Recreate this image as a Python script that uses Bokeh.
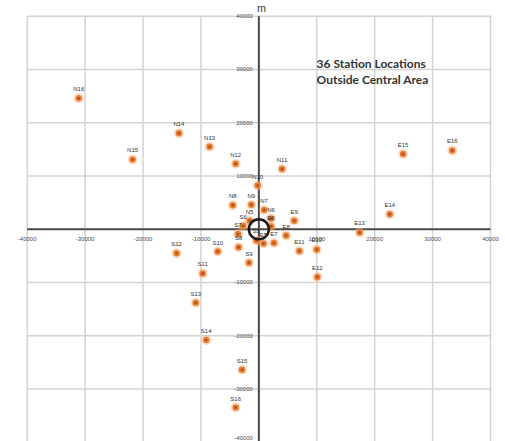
from bokeh.plotting import figure
from bokeh.models import ColumnDataSource, Label, Range1d
from bokeh.core.properties import value
from bokeh.embed import file_html
from bokeh.resources import INLINE

# Station coordinates in metres relative to the centre
names = ["N16", "N15", "N14", "N13", "N12", "N11", "N10", "N9", "N8", "N7", "N6", "N5",
         "E16", "E15", "E14", "E13", "E12", "E11", "E10", "E9", "E8", "E7", "E6", "E5",
         "S16", "S15", "S14", "S13", "S12", "S11", "S10", "S9", "S8", "S7", "S6", "S5"]
xs = [-31100, -21800, -13800, -8500, -4000, 4000, -200, -1300, -4500, 900, 2100, -1600,
      33400, 24900, 22600, 17400, 10100, 7000, 10000, 6100, 4700, 2600, 2100, 800,
      -4000, -2900, -9100, -10900, -14200, -9700, -7100, -1700, -3500, -3600, -2700, -400]
ys = [24600, 13100, 18000, 15500, 12300, 11300, 8200, 4600, 4500, 3600, 2000, 1600,
      14800, 14100, 2800, -600, -9000, -4100, -3800, 1600, -1200, -2600, 500, -2700,
      -33500, -26400, -20800, -13800, -4500, -8300, -4200, -6300, -3400, -900, 600, -2100]

# Axis ticks (m)
ticks = [-40000, -30000, -20000, -10000, 10000, 20000, 30000, 40000]
tick_labels = ["-40000", "-30000", "-20000", "-10000", "10000", "20000", "30000", "40000"]
grid_ticks = [-40000, -30000, -20000, -10000, 0, 10000, 20000, 30000, 40000]
LIM = 40000

p = figure(width=505, height=441, output_backend="svg", toolbar_location=None,
           x_range=Range1d(-44610, 42590), y_range=Range1d(-39870, 42950),
           min_border=0)
p.xaxis.visible = False
p.yaxis.visible = False
p.xgrid.visible = False
p.ygrid.visible = False
p.outline_line_color = None
p.background_fill_color = "white"

# grid lines
p.segment(x0=grid_ticks, y0=[-LIM] * len(grid_ticks), x1=grid_ticks, y1=[LIM] * len(grid_ticks),
          line_color="#d4d4d4", line_width=1.5)
p.segment(x0=[-LIM] * len(grid_ticks), y0=grid_ticks, x1=[LIM] * len(grid_ticks), y1=grid_ticks,
          line_color="#d4d4d4", line_width=1.5)

# main axes through the origin
p.segment(x0=[-LIM, 0], y0=[0, -LIM], x1=[LIM, 0], y1=[0, LIM],
          line_color="#4a4a4a", line_width=2)

# tick labels (the lowest y label is lifted so it stays inside the page)
zeros = [0] * len(ticks)
p.text(x=ticks, y=zeros, text=tick_labels, text_font=value("Liberation Sans"),
       text_font_size=value("6px"), text_color="#4d4d4d", text_align="center",
       text_baseline="middle", y_offset=10)
ysrc = ColumnDataSource(dict(x=zeros, y=ticks, label=tick_labels,
                             dy=[-4 if t == -LIM else 0 for t in ticks]))
p.text(x="x", y="y", text="label", source=ysrc, text_font=value("Liberation Sans"),
       text_font_size=value("6px"), text_color="#4d4d4d", text_align="right",
       text_baseline="middle", x_offset=-6, y_offset="dy")

# stations
src = ColumnDataSource(dict(x=xs, y=ys, name=names))
p.scatter(x="x", y="y", source=src, size=10, fill_color="#f4b183", fill_alpha=0.45, line_color=None)
p.scatter(x="x", y="y", source=src, size=6.5, fill_color="#ED7D31", line_color=None)
p.scatter(x="x", y="y", source=src, size=2.5, fill_color="#7a3a10", fill_alpha=0.7, line_color=None)
p.text(x="x", y="y", text="name", source=src, text_font=value("Liberation Sans"),
       text_font_size=value("6px"), text_color="#333333", text_align="center",
       text_baseline="middle", y_offset=-9)

# central area ring
p.scatter(x=[0], y=[0], size=20, fill_alpha=0, line_color="#1a1a1a", line_width=2.5)

# unit label and caption
p.add_layout(Label(x=-300, y=41577, text="m", text_font="Lato", text_font_size="11px",
                   text_color="#404040", text_baseline="middle", text_align="left"))
p.add_layout(Label(x=9970, y=31118, text="36 Station Locations", text_font="Lato",
                   text_font_size="12px", text_font_style="bold", text_color="#333333",
                   text_baseline="middle", text_align="left"))
p.add_layout(Label(x=9970, y=28113, text="Outside Central Area", text_font="Lato",
                   text_font_size="12px", text_font_style="bold", text_color="#333333",
                   text_baseline="middle", text_align="left"))

open("out.html", "w").write(file_html(p, INLINE))
